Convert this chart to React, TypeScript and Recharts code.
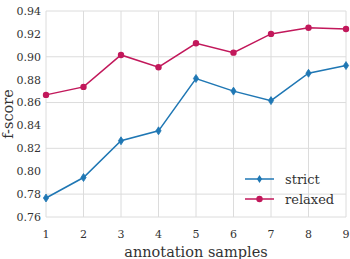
import React from 'react';
import { LineChart, Line, XAxis, YAxis, CartesianGrid } from 'recharts';

// annotation samples on x, f-score on y
const samples = [1, 2, 3, 4, 5, 6, 7, 8, 9];
const strict = [0.7766, 0.7945, 0.8266, 0.8353, 0.881, 0.870, 0.8617, 0.8856, 0.8923];
const relaxed = [0.8667, 0.8737, 0.9016, 0.8909, 0.9118, 0.9036, 0.920, 0.9254, 0.9243];
const yTicks = [0.76, 0.78, 0.8, 0.82, 0.84, 0.86, 0.88, 0.9, 0.92, 0.94];

const STRICT_COLOR = '#1f77b4';
const RELAXED_COLOR = '#c2185b';
const FONT = '"DejaVu Serif", serif';

const data = samples.map((s, i) => ({ n: s, strict: strict[i], relaxed: relaxed[i] }));

function Diamond(props: { cx?: number; cy?: number }) {
  const { cx, cy } = props;
  if (cx === undefined || cy === undefined) return null;
  const w = 2.6;
  const h = 4;
  return (
    <polygon
      points={`${cx},${cy - h} ${cx + w},${cy} ${cx},${cy + h} ${cx - w},${cy}`}
      fill={STRICT_COLOR}
      stroke={STRICT_COLOR}
      strokeWidth={0.8}
    />
  );
}

// legend drawn as an overlay inside the plot, lower right
function LegendBox() {
  const rows = [
    { name: 'strict', color: STRICT_COLOR, diamond: true },
    { name: 'relaxed', color: RELAXED_COLOR, diamond: false },
  ];
  return (
    <div style={{ position: 'absolute', left: 245, top: 169, fontFamily: FONT, fontSize: 13, color: '#333' }}>
      {rows.map((r) => (
        <div key={r.name} style={{ display: 'flex', alignItems: 'center', height: 20 }}>
          <svg width={30} height={12} style={{ marginRight: 10 }}>
            <line x1={0} y1={6} x2={29} y2={6} stroke={r.color} strokeWidth={1.5} />
            {r.diamond ? (
              <polygon points="14.5,2 17.1,6 14.5,10 11.9,6" fill={r.color} />
            ) : (
              <circle cx={14.5} cy={6} r={3.2} fill={r.color} />
            )}
          </svg>
          <span>{r.name}</span>
        </div>
      ))}
    </div>
  );
}

export default function App() {
  return (
    <div style={{ position: 'absolute', left: 0, top: 0, width: 350, height: 259, background: '#fff' }}>
      <LineChart width={350} height={259} data={data} margin={{ top: 11, right: 4, bottom: 0, left: 0 }}>
        <CartesianGrid stroke="#dcdcdc" strokeWidth={1} />
        <XAxis
          dataKey="n"
          type="number"
          domain={[1, 9]}
          ticks={samples}
          tickLine={false}
          axisLine={false}
          tickSize={0}
          tickMargin={13}
          height={42}
          tick={{ fontSize: 11, fill: '#333', fontFamily: FONT }}
          label={{ value: 'annotation samples', position: 'insideBottom', offset: 2, fontSize: 14.5, fill: '#333', fontFamily: FONT }}
        />
        <YAxis
          type="number"
          domain={[0.76, 0.94]}
          ticks={yTicks}
          tickFormatter={(v: number) => v.toFixed(2)}
          tickLine={false}
          axisLine={false}
          tickSize={0}
          tickMargin={5}
          width={46}
          tick={{ fontSize: 11, fill: '#333', fontFamily: FONT }}
          label={{ value: 'f-score', angle: -90, position: 'insideLeft', offset: 8, fontSize: 14.5, fill: '#333', fontFamily: FONT, style: { textAnchor: 'middle' } }}
        />
        <Line
          dataKey="strict"
          stroke={STRICT_COLOR}
          strokeWidth={1.5}
          dot={<Diamond />}
          isAnimationActive={false}
        />
        <Line
          dataKey="relaxed"
          stroke={RELAXED_COLOR}
          strokeWidth={1.5}
          dot={{ r: 3.2, fill: RELAXED_COLOR, stroke: RELAXED_COLOR, strokeWidth: 0 }}
          isAnimationActive={false}
        />
      </LineChart>
      <LegendBox />
    </div>
  );
}
